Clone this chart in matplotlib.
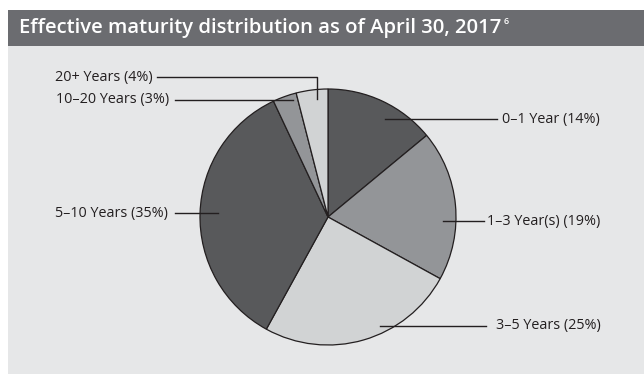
import matplotlib
matplotlib.use("Agg")
import matplotlib.pyplot as plt
from matplotlib.patches import Rectangle

categories = ["0–1 Year", "1–3 Year(s)", "3–5 Years", "5–10 Years", "10–20 Years", "20+ Years"]
values = [14, 19, 25, 35, 3, 4]
colors = ["#58595b", "#939598", "#d1d3d4", "#58595b", "#939598", "#d1d3d4"]
title = "Effective maturity distribution as of April 30, 2017"
footnote = "6"

W, H = 644, 374
fig = plt.figure(figsize=(W / 100, H / 100), dpi=100)
fig.patch.set_facecolor("white")
FONT = "Open Sans"

def fx(x):
    return x / W

def fy(y):
    return 1 - y / H

# background panel and title bar
fig.patches.append(Rectangle((fx(8), 0), 1 - fx(8), fy(46), transform=fig.transFigure,
                             facecolor="#e6e7e8", edgecolor="none", zorder=-5))
fig.patches.append(Rectangle((fx(8), fy(46)), 1 - fx(8), fy(10) - fy(46), transform=fig.transFigure,
                             facecolor="#6b6c70", edgecolor="none", zorder=-5))
t = fig.text(fx(19), fy(28), title, color="white", fontsize=14.6, fontweight="semibold",
             family=FONT, va="center", ha="left")
fig.canvas.draw()
bb = t.get_window_extent()
fig.text((bb.x1 + 2) / W, fy(21), footnote, color="white", fontsize=6.5, fontweight="semibold",
         family=FONT, va="center", ha="left")

# pie axes: centre (328,217), radius 128 px
cx, cy, r = 328, 217, 128
ax = fig.add_axes([fx(cx - r), fy(cy + r), 2 * r / W, 2 * r / H])
ax.pie(values, colors=colors, startangle=90, counterclock=False, radius=1,
       wedgeprops=dict(edgecolor="#231f20", linewidth=0.9))
ax.set_xlim(-1, 1)
ax.set_ylim(-1, 1)
ax.axis("off")

def d(x, y):
    return ((x - cx) / r, (cy - y) / r)

lw = 1.0
lc = "#231f20"
txt_kw = dict(fontsize=10.4, family=FONT, color="#231f20", va="center")
labels = [f"{c} ({v}%)" for c, v in zip(categories, values)]

# right-side labels: (line start x, line end x, y, text x)
right = {0: (385, 497, 119, 502), 1: (443, 484, 221, 487), 2: (380, 486, 326, 496)}
for i, (x0, x1, y, xt) in right.items():
    ax.plot(*zip(d(x0, y), d(x1, y)), color=lc, lw=lw, clip_on=False)
    ax.text(*d(xt, y), labels[i], ha="left", **txt_kw)

# 5-10 years
ax.plot(*zip(d(175, 213), d(218, 213)), color=lc, lw=lw, clip_on=False)
ax.text(*d(168, 213), labels[3], ha="right", **txt_kw)

# 10-20 years
ax.plot(*zip(d(175, 100), d(293, 100)), color=lc, lw=lw, clip_on=False)
ax.text(*d(169, 100), labels[4], ha="right", **txt_kw)

# 20+ years
ax.plot(*zip(d(157, 77), d(317, 77), d(317, 99)), color=lc, lw=lw, clip_on=False)
ax.text(*d(153, 77), labels[5], ha="right", **txt_kw)

fig.savefig("out.png", dpi=100)
